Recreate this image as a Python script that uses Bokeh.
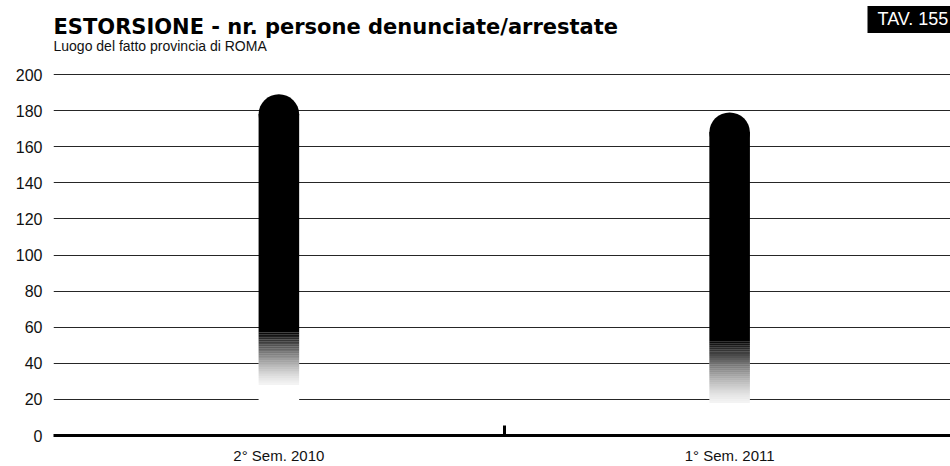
from bokeh.plotting import figure
from bokeh.models import Range1d, FixedTicker, Label, ColumnDataSource
from bokeh.embed import file_html
from bokeh.resources import INLINE

# ---- data ----
categories = ["2° Sem. 2010", "1° Sem. 2011"]
values = [189, 179]          # persone denunciate/arrestate
solid_from = [57, 52]        # value where the bar becomes fully dark (print fade)
fade_to = [28, 18]           # lowest visible speckles of the fade
y_ticks = [0, 20, 40, 60, 80, 100, 120, 140, 160, 180, 200]

title_text = "ESTORSIONE - nr. persone denunciate/arrestate"
subtitle_text = "Luogo del fatto provincia di ROMA"
tav_text = "TAV. 155"

# ---- derived geometry ----
x_pos = [i + 0.5 for i in range(len(categories))]
bar_w = 0.09
cap = 11.0  # half-height of rounded cap, data units

# the frame reaches the top of the canvas so the heading texts sit inside it
p = figure(width=950, height=466,
           x_range=Range1d(0, 1.99), y_range=Range1d(0, 241),
           output_backend="svg", toolbar_location=None,
           min_border_left=53, min_border_right=0,
           min_border_top=0, min_border_bottom=30,
           title=None)
p.outline_line_color = None
p.background_fill_color = "white"
p.border_fill_color = "white"

# grid
p.xgrid.grid_line_color = None
p.ygrid.ticker = FixedTicker(ticks=y_ticks)
p.ygrid.grid_line_color = "#262626"
p.ygrid.grid_line_width = 1.2

# y axis
p.yaxis.ticker = FixedTicker(ticks=y_ticks)
p.yaxis.axis_line_color = None
p.yaxis.major_tick_line_color = None
p.yaxis.minor_tick_line_color = None
p.yaxis.major_label_standoff = 5
p.yaxis.major_label_text_font = "Liberation Sans"
p.yaxis.major_label_text_font_size = "16px"
p.yaxis.major_label_text_color = "#111111"

# x axis
p.xaxis.ticker = FixedTicker(ticks=x_pos, minor_ticks=[1.0])
p.xaxis.major_label_overrides = {x: c for x, c in zip(x_pos, categories)}
p.xaxis.axis_line_color = "black"
p.xaxis.axis_line_width = 3
p.xaxis.major_tick_line_color = None
p.xaxis.minor_tick_line_color = "black"
p.xaxis.minor_tick_line_width = 3
p.xaxis.minor_tick_in = 10
p.xaxis.minor_tick_out = 0
p.xaxis.major_label_standoff = 5
p.xaxis.major_label_text_font = "Liberation Sans"
p.xaxis.major_label_text_font_size = "15px"
p.xaxis.major_label_text_color = "#111111"

# white mask below the bars (cuts the gridlines like the printed bar)
p.vbar(x=x_pos, width=bar_w, bottom=[1.5] * len(x_pos), top=solid_from,
       fill_color="white", line_color=None)

# fading lower part of each bar
n_steps = 30
fl, fr, fb, ft, fa = [], [], [], [], []
for x, lo, hi in zip(x_pos, fade_to, solid_from):
    step = (hi - lo) / n_steps
    for k in range(n_steps):
        t = (k + 1) / n_steps
        fl.append(x - bar_w / 2)
        fr.append(x + bar_w / 2)
        fb.append(lo + k * step)
        ft.append(lo + (k + 1) * step)
        fa.append(min(1.0, 0.04 + 0.92 * t ** 1.4))
p.quad(left="l", right="r", bottom="b", top="t",
       source=ColumnDataSource(dict(l=fl, r=fr, b=fb, t=ft, a=fa)),
       fill_color="black", fill_alpha="a", line_color=None)

# solid part
p.vbar(x=x_pos, width=bar_w, bottom=solid_from, top=[v - cap for v in values],
       fill_color="black", line_color=None)
# rounded top
p.ellipse(x=x_pos, y=[v - cap for v in values], width=bar_w, height=2 * cap,
          fill_color="black", line_color=None)

# titles (screen units are relative to the plot frame: origin bottom-left)
p.add_layout(Label(x=0, y=409, x_units="screen", y_units="screen",
                   text=title_text, text_font="DejaVu Sans",
                   text_font_style="bold", text_font_size="21px",
                   text_color="black", text_baseline="alphabetic"))
p.add_layout(Label(x=0, y=390, x_units="screen", y_units="screen",
                   text=subtitle_text, text_font="Liberation Sans",
                   text_font_size="14px", text_color="#111111",
                   text_baseline="alphabetic"))
p.add_layout(Label(x=814, y=416, x_units="screen", y_units="screen",
                   text=tav_text, text_font="Liberation Sans",
                   text_font_size="18px", text_color="white",
                   text_baseline="alphabetic",
                   background_fill_color="black",
                   padding=dict(left=10, right=12, top=3, bottom=4)))

open("out.html", "w").write(file_html(p, INLINE))
